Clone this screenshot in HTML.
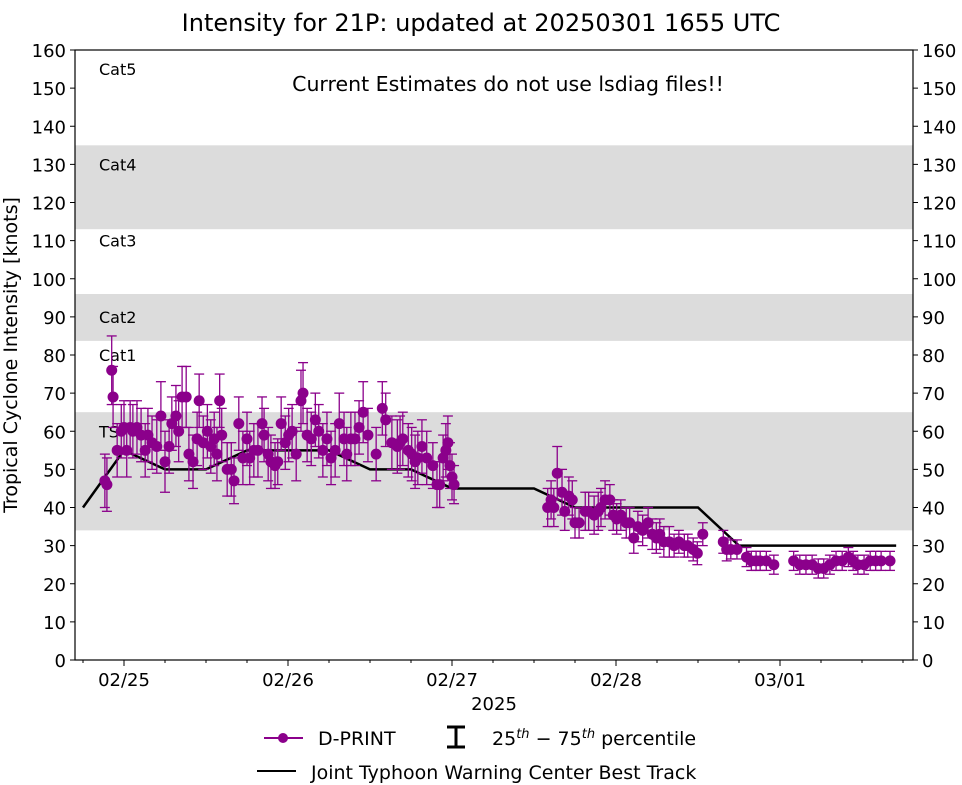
<!DOCTYPE html>
<html><head><meta charset="utf-8"><style>
body{margin:0;background:#fff;}
svg{display:block;font-family:"DejaVu Sans","Liberation Sans",sans-serif;}
</style></head><body>
<svg id="chart" width="962" height="785" viewBox="0 0 962 785">
<text x="481" y="31" text-anchor="middle" font-size="24">Intensity for 21P: updated at 20250301 1655 UTC</text>
<g id="bands"></g>
<g id="grid"></g>
<text x="508" y="91" text-anchor="middle" font-size="20.5">Current Estimates do not use lsdiag files!!</text>
<g id="marks"></g>
<rect x="75" y="50" width="838" height="610" fill="none" stroke="#000" stroke-width="1.2"/>
<text transform="translate(17,355) rotate(-90)" text-anchor="middle" font-size="19">Tropical Cyclone Intensity [knots]</text>
<text x="494" y="710" text-anchor="middle" font-size="18">2025</text>
<g>
<line x1="264" y1="738" x2="303" y2="738" stroke="#8b008b" stroke-width="2"/>
<circle cx="283" cy="738" r="5" fill="#8b008b"/>
<text x="318" y="745" font-size="19">D-PRINT</text>
<g stroke="#000" stroke-width="3"><line x1="456" y1="727" x2="456" y2="747"/><line x1="447" y1="727" x2="465" y2="727"/><line x1="447" y1="747" x2="465" y2="747"/></g>
<text x="492" y="745" font-size="19">25<tspan font-size="13" dy="-7" font-style="italic">th</tspan><tspan dy="7"> − 75</tspan><tspan font-size="13" dy="-7" font-style="italic">th</tspan><tspan dy="7"> percentile</tspan></text>
<line x1="257" y1="771" x2="296" y2="771" stroke="#000" stroke-width="2"/>
<text x="311" y="779" font-size="19">Joint Typhoon Warning Center Best Track</text>
</g>
</svg>
<script>
const yTicks=[0,10,20,30,40,50,60,70,80,90,100,110,120,130,140,150,160];
const xTickDays=[0,1,2,3,4];
const xTickLabels=["02/25","02/26","02/27","02/28","03/01"];
const bandLo=[34,83.7,113];
const bandHi=[65,96,135];
const catNames=["TS","Cat1","Cat2","Cat3","Cat4","Cat5"];
const catLevels=[60,80,90,110,130,155];
// best track (hours since 02/25 00Z, knots)
const btHours=[-6,0,6,12,18,24,30,36,42,48,60,66,84,90,113];
const btVals=[40,55,50,50,55,55,55,50,50,45,45,40,40,30,30];
// D-PRINT (hours since 02/25 00Z)
const dpHours=[-2.8,-2.5,-1.8,-1.6,-1.0,-0.4,0,0.4,0.9,1.3,
1.9,2.5,3.1,3.5,4.1,4.8,5.4,6.0,6.6,7.0,
7.6,8.0,8.5,9.1,9.5,10.1,10.7,11.0,11.6,12.2,
12.7,13.2,13.6,14.0,14.3,15.1,15.7,16.1,16.8,17.4,
18.0,18.4,19.0,19.6,20.2,20.5,21.1,21.5,22.1,22.5,
23.0,23.6,24.1,24.6,25.2,25.9,26.2,26.8,27.4,28.0,
28.5,29.1,29.7,30.3,30.9,31.5,32.2,32.6,33.2,33.8,
34.4,35.0,35.7,36.9,37.8,38.3,39.2,40.0,40.4,40.8,
41.6,42.1,42.6,43.0,43.6,44.3,45.2,45.8,46.2,46.7,
47.1,47.4,47.7,48.0,48.3,
62.0,62.5,62.9,63.4,64.1,64.5,65.1,65.6,66.0,66.6,
67.5,68.0,68.8,69.4,69.8,70.4,71.1,71.6,72.1,72.7,
73.5,74.0,74.6,75.2,75.9,76.7,77.3,77.9,78.4,79.0,
79.8,80.5,81.2,82.0,82.5,83.3,83.9,84.7,
87.7,88.2,88.8,89.7,91.1,91.8,92.5,93.1,94.0,95.1,
98.0,98.9,99.8,100.7,101.6,102.4,103.3,104.2,105.1,106.0,
106.7,107.4,108.3,109.2,110.0,110.8,112.1];
const dpVals=[47,46,76,69,55,60,61,55,61,60,
61,59,55,59,57,56,64,52,56,62,
64,60,69,69,54,52,58,68,57,60,
56,58,54,68,59,50,50,47,62,53,
58,53,55,55,62,59,54,52,51,52,
62,57,59,60,54,68,70,59,58,63,
60,55,58,53,55,62,58,54,58,58,
61,65,59,54,66,63,57,56,57,58,
55,54,52,53,56,53,51,46,46,53,
55,57,51,48,46,
40,42,40,49,44,39,43,42,36,36,
39,39,38,39,40,42,42,38,37,38,
36,36,32,35,34,36,33,32,33,31,
31,30,31,30,30,29,28,33,
31,29,29,29,27,26,26,26,26,25,
26,25,25,25,24,24,25,26,26,27,
26,25,25,26,26,26,26];
const dpSpread=[7,7,9,8,7,7,7,7,7,7,
7,7,7,7,7,7,9,8,7,7,
8,8,8,8,7,7,7,7,7,7,
7,7,7,7,7,7,7,6,7,7,
7,7,7,7,7,7,7,7,6,6,
7,7,7,7,7,8,8,7,7,7,
7,7,7,7,7,8,7,7,7,7,
7,8,7,7,7,7,7,7,7,7,
7,7,7,7,7,7,6,6,6,6,
7,7,6,6,5,
5,5,5,7,6,5,5,5,4,4,
5,5,5,5,5,5,4,4,4,4,
4,4,4,4,4,4,4,4,4,4,
4,3,3,3,3,3,3,3,
3,3,2.5,2.5,2.5,2.5,2.5,2.5,2.5,2.5,
2.5,2.5,2.5,2.5,2.5,2.5,2.5,2.5,2.5,2.5,
2.5,2.5,2.5,2.5,2.5,2.5,2.5];

const NS="http://www.w3.org/2000/svg";
const X0=75,X1=913,Y0=660,Y1=50;
const xs=h=>124+164*(h/24);
const ys=v=>Y0-(v/160)*(Y0-Y1);
function mk(t,a,p){const e=document.createElementNS(NS,t);for(const k in a)e.setAttribute(k,a[k]);p.appendChild(e);return e;}
const bands=document.getElementById('bands'),grid=document.getElementById('grid'),marks=document.getElementById('marks');
for(let i=0;i<bandLo.length;i++){
 const r=mk('rect',{x:X0,y:ys(bandHi[i]),width:X1-X0,height:ys(bandLo[i])-ys(bandHi[i]),fill:'#dcdcdc'},bands);
 
 
}
for(let i=0;i<catNames.length;i++){
 const t=mk('text',{x:99,y:ys(catLevels[i])+6,'font-size':16},grid);t.textContent=catNames[i];
 
 
}
yTicks.forEach(v=>{
 const y=ys(v);
 mk('line',{x1:X0-5,x2:X0,y1:y,y2:y,stroke:'#000'},grid);
 mk('line',{x1:X1,x2:X1+5,y1:y,y2:y,stroke:'#000'},grid);
 const a=mk('text',{x:X0-9,y:y+7,'text-anchor':'end','font-size':18},grid);a.textContent=v;
 
 
 const b=mk('text',{x:X1+9,y:y+7,'font-size':18},grid);b.textContent=v;
 
 
});
for(let h=-12;h<=114;h+=6){const x=xs(h);if(x<X0||x>X1)continue;mk('line',{x1:x,x2:x,y1:Y0,y2:Y0+3,stroke:'#000'},grid);}
xTickDays.forEach((d,i)=>{
 const x=xs(d*24);
 mk('line',{x1:x,x2:x,y1:Y0,y2:Y0+6,stroke:'#000'},grid);
 const t=mk('text',{x:x,y:Y0+26,'text-anchor':'middle','font-size':18},grid);t.textContent=xTickLabels[i];
 
 
});
const bt=mk('polyline',{points:btHours.map((h,i)=>xs(h)+','+ys(btVals[i])).join(' '),fill:'none',stroke:'#000','stroke-width':2.5},marks);


dpHours.forEach((h,i)=>{
 const x=xs(h),lo=ys(dpVals[i]-dpSpread[i]),hi=ys(dpVals[i]+dpSpread[i]);
 const g=mk('g',{stroke:'#8b008b','stroke-width':1.3},marks);
 
 
 mk('line',{x1:x,x2:x,y1:lo,y2:hi},g);
 mk('line',{x1:x-5,x2:x+5,y1:lo,y2:lo},g);
 mk('line',{x1:x-5,x2:x+5,y1:hi,y2:hi},g);
});
dpHours.forEach((h,i)=>{
 const c=mk('circle',{cx:xs(h),cy:ys(dpVals[i]),r:5.5,fill:'#8b008b'},marks);
 
 
});
</script>
</body></html>
